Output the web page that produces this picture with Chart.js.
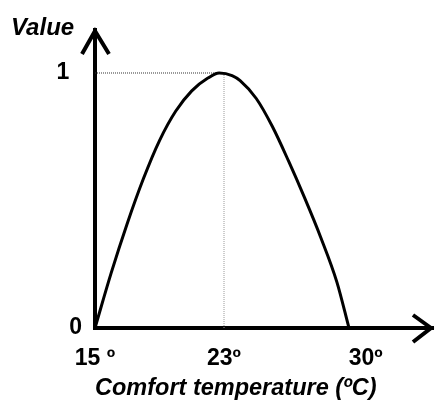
<!DOCTYPE html>
<html><head><meta charset="utf-8">
<script src="https://cdn.jsdelivr.net/npm/chart.js@4"></script>
<style>html,body{margin:0;padding:0;background:#fff}</style>
</head><body>
<canvas id="c" width="435" height="403"></canvas>
<script>
// Curve (temperature in ºC, value 0..1)
const temperatures = [15, 16, 17, 18, 19, 20, 21, 22, 22.7, 23.5, 24, 25, 26, 27, 28, 29, 30, 30.75];
const comfortValues = [0, 0.215, 0.41, 0.585, 0.735, 0.85, 0.93, 0.98, 1.0, 0.99, 0.97, 0.9, 0.79, 0.655, 0.51, 0.355, 0.18, 0];
// Dotted guide from the optimum
const guideTemps = [15, 23, 23];
const guideValues = [1, 1, 0];
// Tick labels
const xTickValues = [15, 23, 30];
const xTickLabels = ['15 º', '23º', '30º'];
const yTickValues = [0, 1];
const yTickLabels = ['0', '1'];
const xTitle = 'Comfort temperature (ºC)';
const yTitle = 'Value';

const FONT = "'Liberation Sans', Arial, sans-serif";

const arrowPlugin = {
  id: 'axisArrows',
  afterDraw(chart) {
    const {ctx, chartArea: a} = chart;
    const ox = chart.scales.x.getPixelForValue(chart.scales.x.min);
    const oy = chart.scales.y.getPixelForValue(0);
    ctx.save();
    ctx.strokeStyle = '#000';
    ctx.lineWidth = 4;
    ctx.lineJoin = 'miter';
    ctx.lineCap = 'butt';
    ctx.beginPath();
    ctx.moveTo(ox - 13, a.top + 24);
    ctx.lineTo(ox, a.top + 1);
    ctx.lineTo(ox + 14, a.top + 24);
    ctx.stroke();
    ctx.beginPath();
    ctx.moveTo(a.right - 20, oy - 13);
    ctx.lineTo(a.right - 2, oy);
    ctx.lineTo(a.right - 20, oy + 14);
    ctx.stroke();
    ctx.restore();
  }
};

new Chart(document.getElementById('c'), {
  type: 'line',
  data: {
    datasets: [
      {
        data: temperatures.map((t, i) => ({x: t, y: comfortValues[i]})),
        borderColor: '#000',
        borderWidth: 3,
        pointRadius: 0,
        cubicInterpolationMode: 'monotone',
        fill: false,
        clip: false
      },
      {
        data: guideTemps.map((t, i) => ({x: t, y: guideValues[i]})),
        borderColor: '#444',
        borderWidth: 1,
        borderDash: [1, 1],
        pointRadius: 0,
        tension: 0,
        fill: false,
        clip: false,
        segment: {
          borderColor: c => c.p0DataIndex === 0 ? '#333' : '#999'
        }
      }
    ]
  },
  options: {
    responsive: false,
    animation: false,
    events: [],
    layout: {padding: {left: 11, right: 2, top: 0, bottom: 0}},
    plugins: {
      legend: {display: false},
      tooltip: {enabled: false},
      title: {
        display: true,
        text: yTitle,
        align: 'start',
        color: '#000',
        font: {family: FONT, size: 24, weight: 'bold', style: 'italic', lineHeight: 1},
        padding: {top: 16, bottom: -10}
      }
    },
    scales: {
      x: {
        type: 'linear',
        min: 15,
        max: 35.96,
        grid: {display: false, drawTicks: false},
        border: {display: true, color: '#000', width: 4},
        afterBuildTicks: s => { s.ticks = xTickValues.map(v => ({value: v})); },
        afterFit: s => { s.height = 75; },
        ticks: {
          color: '#000',
          padding: 17,
          autoSkip: false,
          maxRotation: 0,
          font: {family: FONT, size: 23, weight: 'bold'},
          callback: (v) => {
            const i = xTickValues.indexOf(v);
            const lbl = xTickLabels[i];
            return i === 2 ? '\u00a0'.repeat(9) + lbl : lbl;
          }
        },
        title: {
          display: true,
          text: xTitle,
          align: 'start',
          color: '#000',
          font: {family: FONT, size: 23.5, weight: 'bold', style: 'italic'},
          padding: {top: 0, bottom: 0}
        }
      },
      y: {
        type: 'linear',
        min: 0,
        max: 1.1686,
        grid: {display: false, drawTicks: false},
        border: {display: true, color: '#000', width: 4},
        afterBuildTicks: s => { s.ticks = yTickValues.map(v => ({value: v})); },
        afterFit: s => { s.width = 84; },
        ticks: {
          color: '#000',
          padding: 13,
          autoSkip: false,
          font: {family: FONT, size: 23, weight: 'bold'},
          callback: (v) => {
            const i = yTickValues.indexOf(v);
            return i === 1 ? yTickLabels[i] + '\u00a0\u00a0' : yTickLabels[i];
          }
        }
      }
    }
  },
  plugins: [arrowPlugin]
});
</script>
</body></html>
